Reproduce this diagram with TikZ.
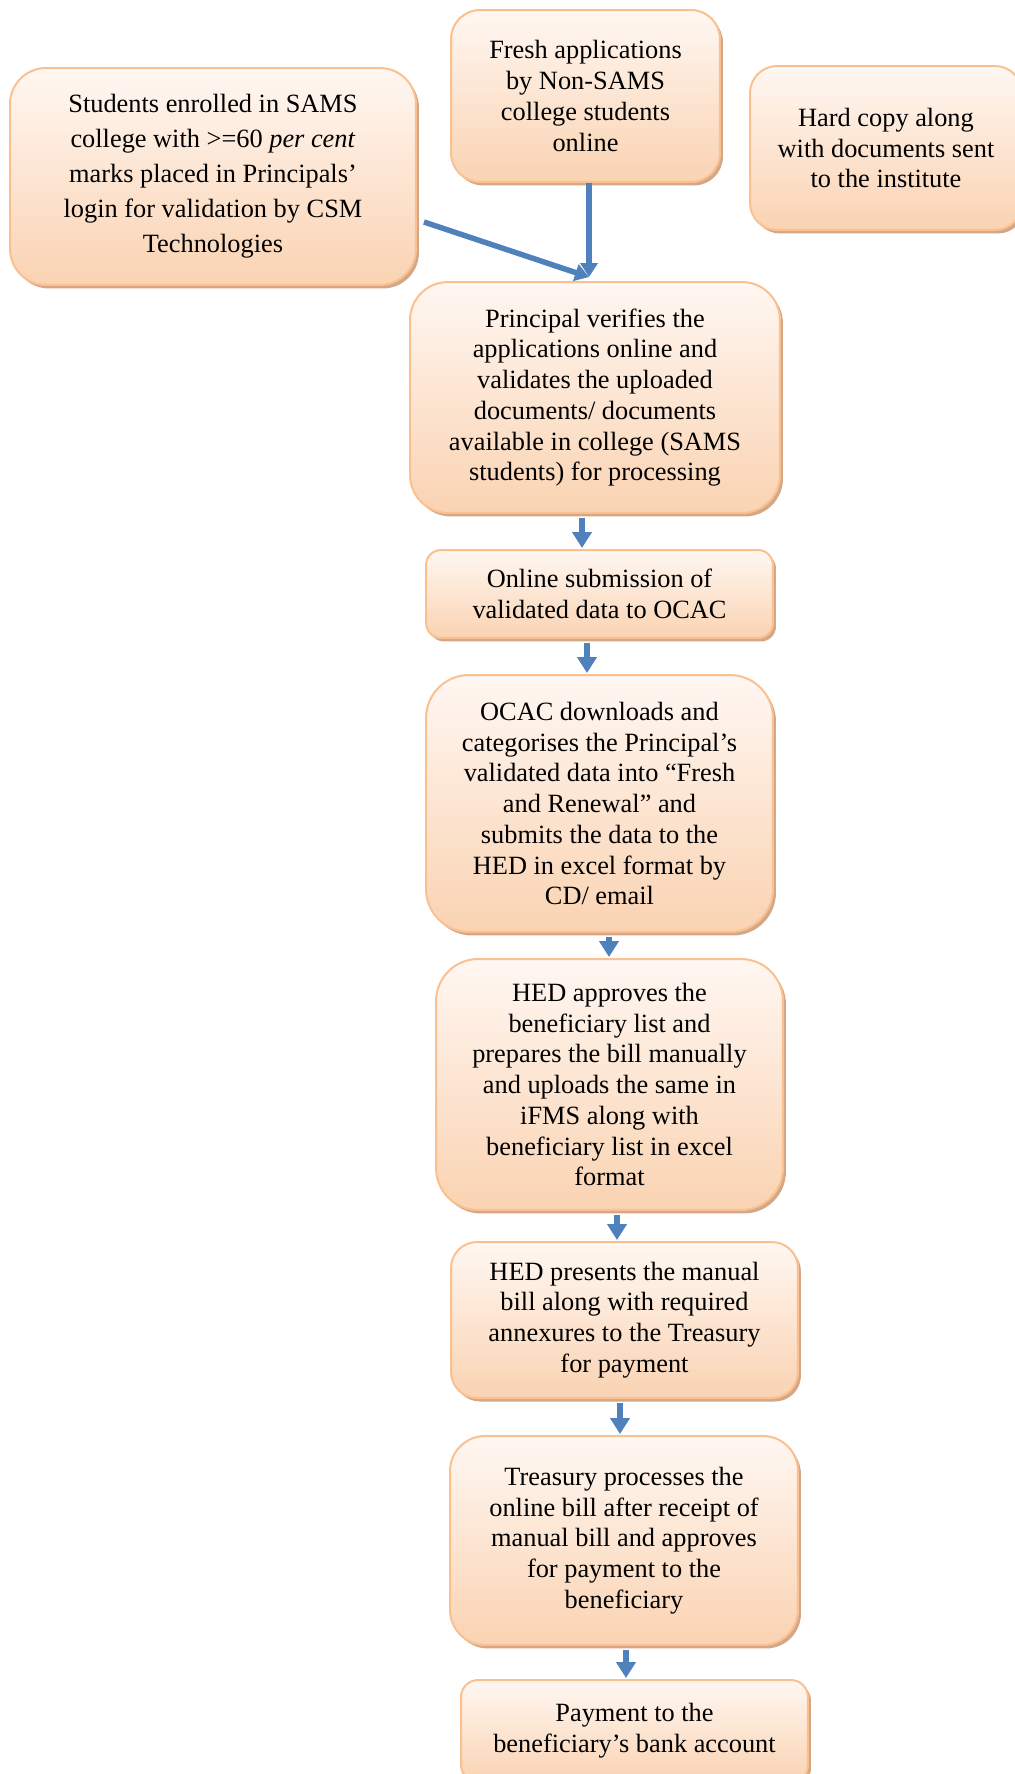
\documentclass[tikz,border=0pt]{standalone}
\usepackage{fontspec}
\setmainfont{Liberation Serif}
\usetikzlibrary{arrows.meta,calc,shadows}
\definecolor{peachLine}{RGB}{250,192,144}
\definecolor{peachTop}{RGB}{255,247,242}
\definecolor{peachBottom}{RGB}{250,211,178}
\definecolor{shadowTone}{RGB}{212,168,134}
\definecolor{arrowBlue}{RGB}{79,129,189}
\newcommand{\flowStep}[3]{%
  \coordinate (stepTop) at ($(#1.south)+(#3,0)$);
  \draw[stepArrow] (stepTop) -- (stepTop |- #2.north);
}

\begin{document}
\begin{tikzpicture}[x=0.02cm,y=-0.02cm,%
  boxStyle/.style={draw=peachLine,line width=0.04cm,top color=peachTop,bottom color=peachBottom,%
    drop shadow={shadow xshift=0.06cm,shadow yshift=-0.07cm,fill=shadowTone,opacity=1},%
    align=center,inner sep=0pt,font=\fontsize{15}{17.5}\selectfont},%
  stepArrow/.style={-{Triangle[width=0.38cm,length=0.32cm]},line width=0.12cm,draw=arrowBlue,fill=arrowBlue,%
    shorten <=0.08cm,shorten >=0.02cm},%
  feedArrow/.style={-{Triangle[width=0.34cm,length=0.28cm]},line width=0.11cm,draw=arrowBlue,fill=arrowBlue}%
]
\useasboundingbox (0,0) rectangle (1014,1774);
%
% Top row.
\node[boxStyle,minimum width=8.12cm,minimum height=4.34cm,rounded corners=0.72cm,%
  font=\fontsize{15}{19.9}\selectfont] (students) at (213,176.5)
  {Students enrolled in SAMS\\college with >=60 \textit{per cent}\\marks placed in Principals'\\login for validation by CSM\\Technologies};
\node[boxStyle,minimum width=5.38cm,minimum height=3.44cm,rounded corners=0.58cm] (fresh) at (585.5,96)
  {Fresh applications\\by Non-SAMS\\college students\\online};
\node[boxStyle,minimum width=5.44cm,minimum height=3.28cm,rounded corners=0.54cm] (hardCopy) at (886,148)
  {Hard copy along\\with documents sent\\to the institute};
%
% The main column.
\node[boxStyle,minimum width=7.4cm,minimum height=4.62cm,rounded corners=0.76cm] (principal) at (595,397.5)
  {Principal verifies the\\applications online and\\validates the uploaded\\documents/ documents\\available in college (SAMS\\students) for processing};
\node[boxStyle,minimum width=6.94cm,minimum height=1.76cm,rounded corners=0.3cm] (online) at (599.5,594)
  {Online submission of\\validated data to OCAC};
\node[boxStyle,minimum width=6.94cm,minimum height=5.14cm,rounded corners=0.86cm] (ocac) at (599.5,803.5)
  {OCAC downloads and\\categorises the Principal's\\validated data into ``Fresh\\and Renewal'' and\\submits the data to the\\HED in excel format by\\CD/ email};
\node[boxStyle,minimum width=6.94cm,minimum height=5.02cm,rounded corners=0.84cm] (hedApproves) at (609.5,1084.5)
  {HED approves the\\beneficiary list and\\prepares the bill manually\\and uploads the same in\\iFMS along with\\beneficiary list in excel\\format};
\node[boxStyle,minimum width=6.94cm,minimum height=3.12cm,rounded corners=0.52cm] (hedPresents) at (624.5,1320)
  {HED presents the manual\\bill along with required\\annexures to the Treasury\\for payment};
\node[boxStyle,minimum width=6.96cm,minimum height=4.18cm,rounded corners=0.7cm] (treasury) at (624,1540.5)
  {Treasury processes the\\online bill after receipt of\\manual bill and approves\\for payment to the\\beneficiary};
\node[boxStyle,minimum width=6.94cm,minimum height=2.04cm,rounded corners=0.34cm] (payment) at (634.5,1731)
  {Payment to the\\beneficiary's bank account};
%
% Feeds into the principal.
\coordinate (freshFoot) at ($(fresh.south)+(3.5,0)$);
\coordinate (joinPt) at ($(freshFoot |- principal.north)+(0,-4)$);
\draw[feedArrow] (freshFoot) -- (joinPt);
\draw[feedArrow] ($(students.east)+(7,45.5)$) -- (joinPt);
%
% Steps down the column.
\flowStep{principal}{online}{-13}
\flowStep{online}{ocac}{-12.5}
\flowStep{ocac}{hedApproves}{9.5}
\flowStep{hedApproves}{hedPresents}{7.5}
\flowStep{hedPresents}{treasury}{-4.5}
\flowStep{treasury}{payment}{2}
\end{tikzpicture}
\end{document}
